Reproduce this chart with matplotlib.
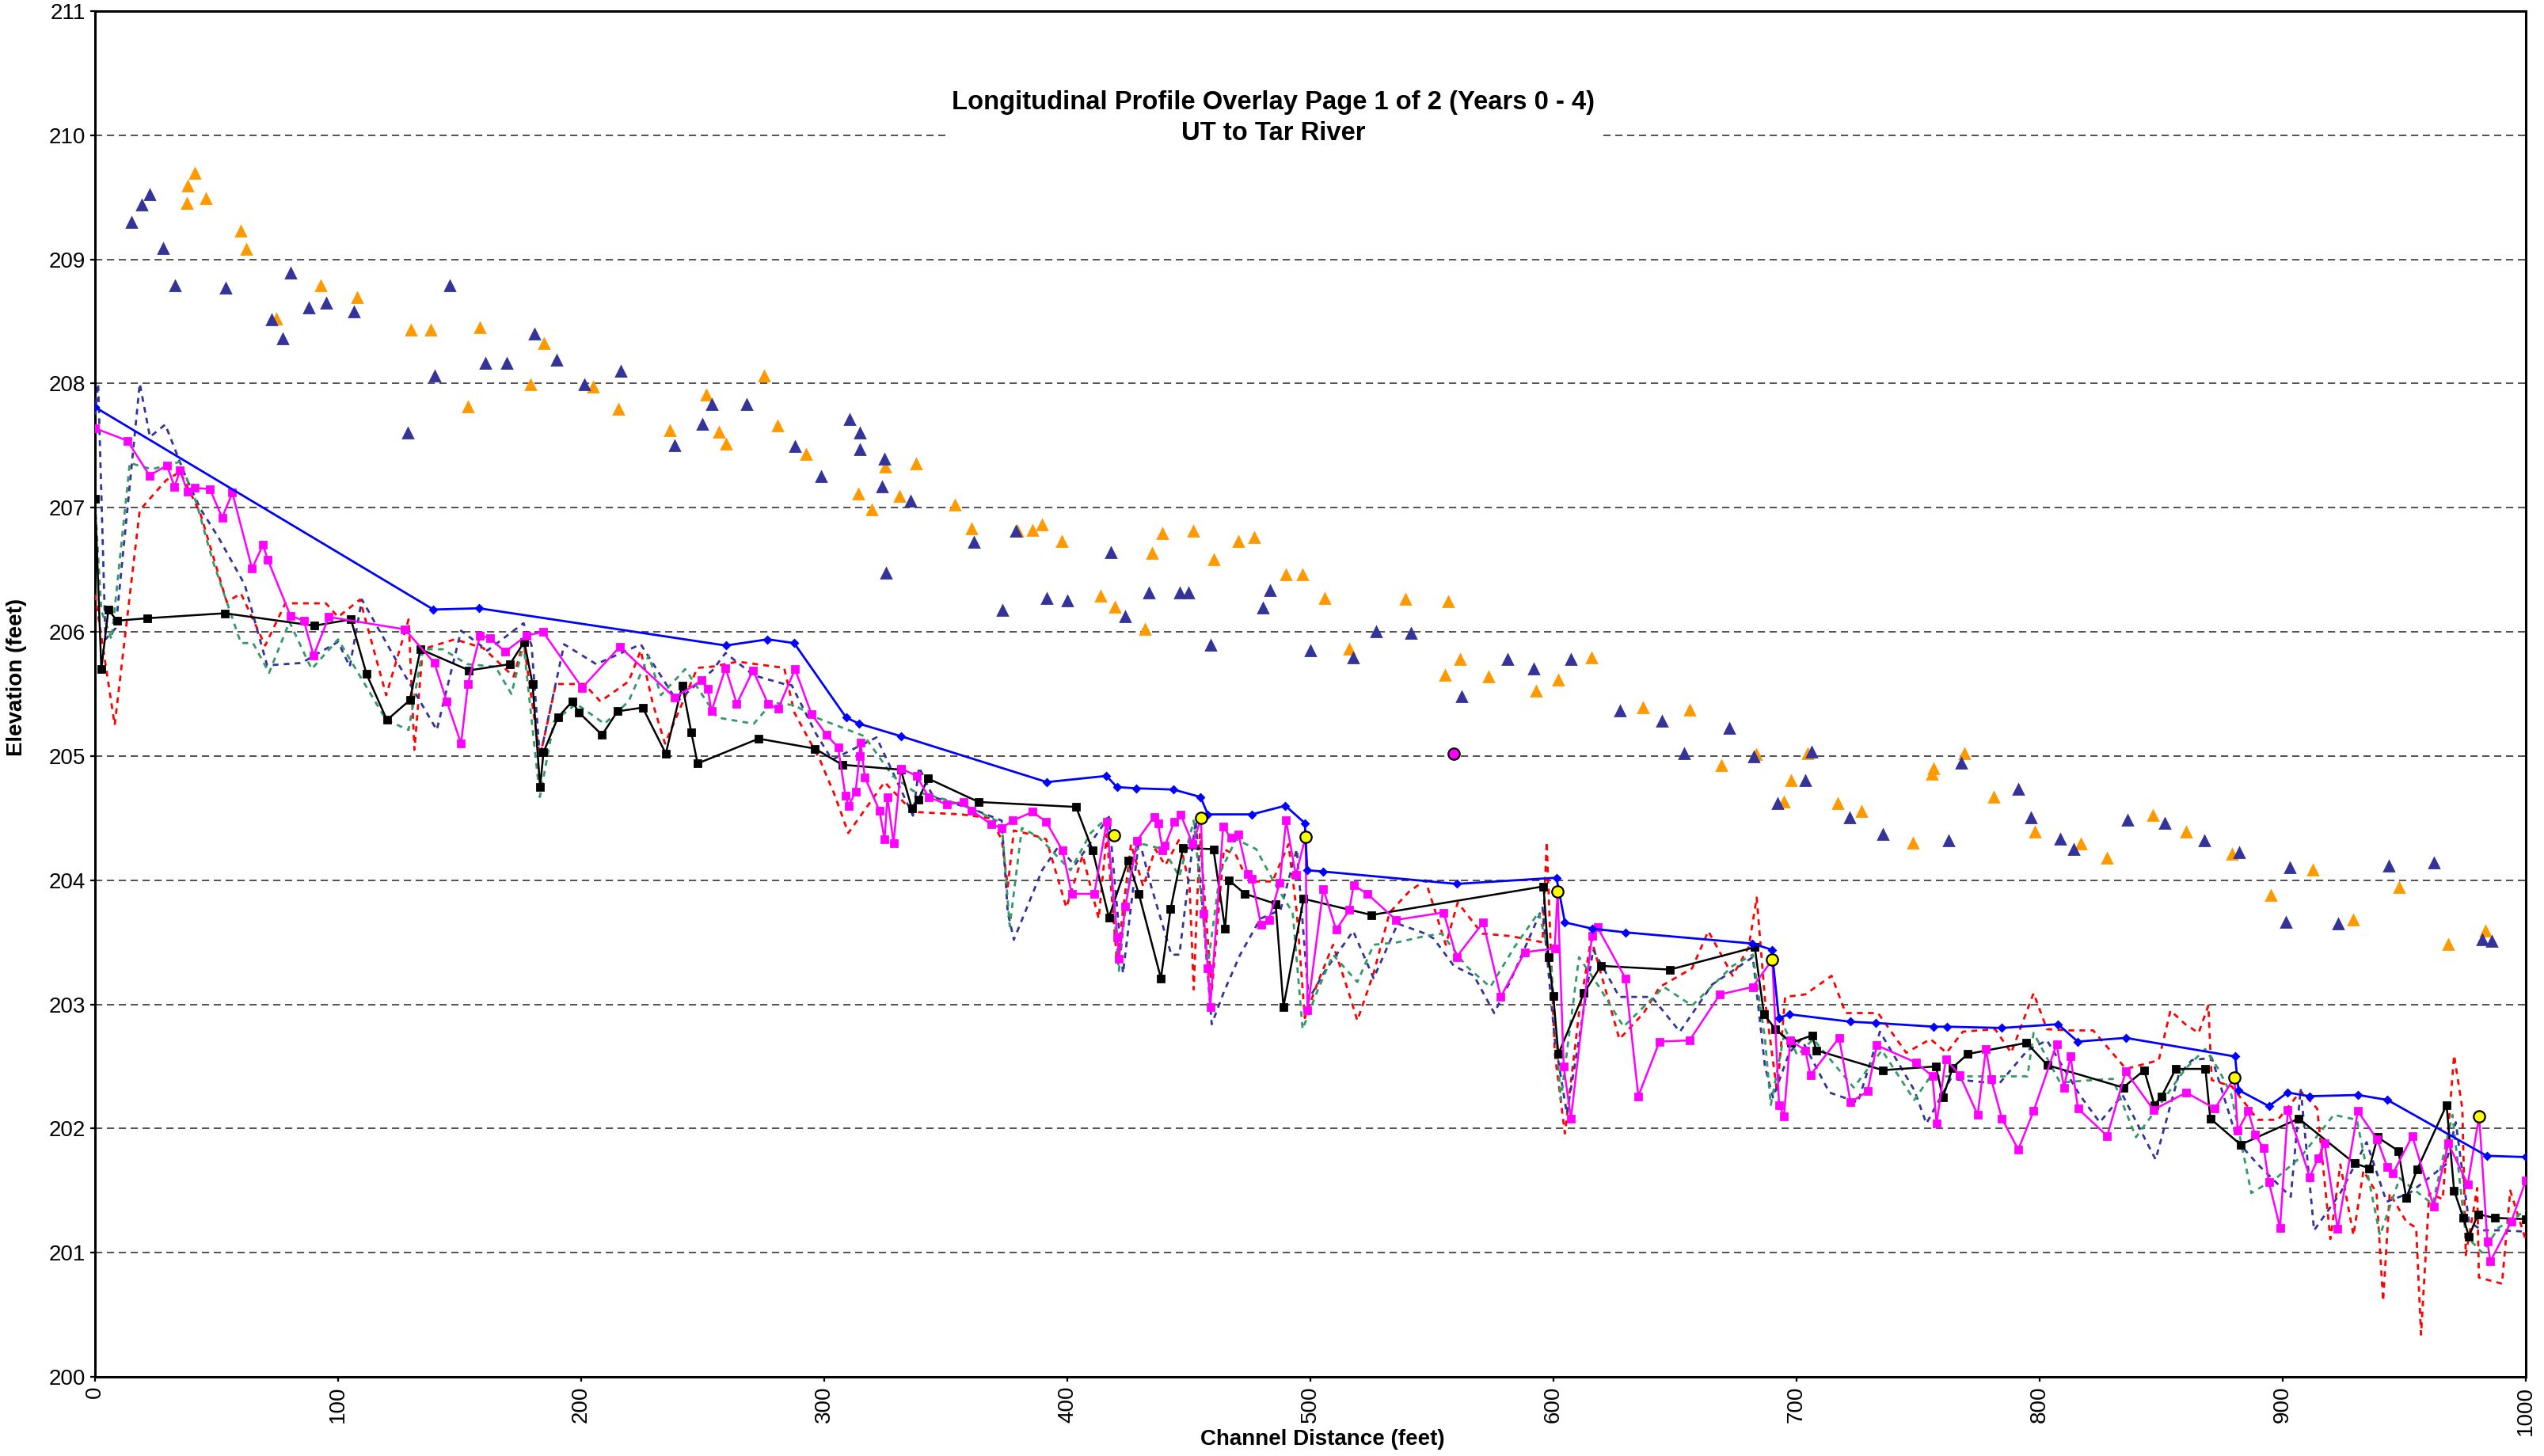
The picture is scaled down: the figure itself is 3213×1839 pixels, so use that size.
import matplotlib
matplotlib.use("Agg")
import matplotlib.pyplot as plt

plt.rcParams["font.family"] = ["Liberation Sans", "DejaVu Sans"]

# ------------------------------------------------------------------ #
#  Data                                   #
# ------------------------------------------------------------------ #
# water surface (blue)
water_x = [0, 139.2, 158, 259.5, 276.7, 287.6, 309, 314.4, 331.5, 391.6, 416.1, 420.4,
           428.4, 443.7, 454.8, 457.8, 475.9, 489.7, 497.7, 498.7, 505.1, 560.2, 601.2,
           604.7, 615.9, 629.5, 681.8, 689.8, 692.7, 697, 722.2, 732.5, 756.5, 761.8,
           784.5, 807.5, 815.7, 835.4, 880.4, 881.8, 894.3, 902, 911, 931, 943.1, 983.9, 1000]
water_y = [207.81, 206.18, 206.19, 205.89, 205.94, 205.91, 205.31, 205.26, 205.16, 204.79,
           204.84, 204.75, 204.74, 204.73, 204.67, 204.53, 204.53, 204.60, 204.46, 204.08,
           204.07, 203.97, 204.02, 203.66, 203.61, 203.58, 203.49, 203.44, 202.89, 202.92,
           202.86, 202.85, 202.82, 202.82, 202.81, 202.84, 202.70, 202.73, 202.58, 202.31,
           202.18, 202.29, 202.26, 202.27, 202.23, 201.78, 201.77]

# thalweg year 0 (black)
yr0_x = [0, 2.6, 5.5, 9, 21.6, 53.3, 90.2, 105.3, 111.7, 120.1, 129.5, 133.9, 153.9, 170.7,
         176.6, 180, 183.1, 184.5, 190.4, 196.3, 199.1, 208.6, 214.9, 225.3, 234.8, 241.6,
         245.3, 247.9, 273, 296.1, 307.4, 331.5, 336, 338.8, 342.6, 363.5, 403.6, 410.4,
         417.1, 425, 429.4, 438.5, 442.5, 447.6, 460.1, 464.9, 466.4, 473.1, 485.7, 488.9,
         497.2, 525.1, 595.9, 597.9, 599.9, 602, 612.5, 619.5, 647.9, 682.8, 686.6, 691.3,
         697.8, 706.4, 708.1, 735.5, 757.3, 760.2, 764.2, 770.4, 794.6, 803.2, 834.4, 843,
         847.2, 850.2, 856, 868.2, 870.2, 882.7, 906.6, 929.5, 935.6, 939, 947.6, 950.8,
         955.3, 967.4, 970.5, 974.3, 976.6, 980.3, 987.2, 1000]
yr0_y = [207.07, 205.70, 206.18, 206.09, 206.11, 206.15, 206.05, 206.10, 205.66, 205.29,
         205.45, 205.86, 205.69, 205.74, 205.92, 205.58, 204.75, 205.03, 205.31, 205.44,
         205.35, 205.17, 205.36, 205.39, 205.02, 205.57, 205.19, 204.94, 205.14, 205.06,
         204.93, 204.89, 204.58, 204.65, 204.82, 204.63, 204.59, 204.24, 203.70, 204.16,
         203.89, 203.21, 203.77, 204.26, 204.25, 203.61, 204.00, 203.89, 203.81, 202.98,
         203.85, 203.72, 203.95, 203.38, 203.07, 202.60, 203.09, 203.31, 203.28, 203.46,
         202.92, 202.80, 202.69, 202.75, 202.63, 202.47, 202.50, 202.25, 202.49, 202.60,
         202.69, 202.51, 202.33, 202.47, 202.19, 202.26, 202.48, 202.48, 202.08, 201.87,
         202.08, 201.72, 201.68, 201.93, 201.82, 201.44, 201.67, 202.19, 201.50, 201.28,
         201.13, 201.31, 201.28, 201.27]

# thalweg year 4 (magenta)
yr4_x = [0, 13.3, 22.4, 29.6, 32.7, 35, 38, 40.9, 47.3, 52.3, 56.5, 64.6, 69.1, 71.1, 80.4,
         85.9, 89.9, 96.2, 127.5, 139.6, 144.7, 150.6, 153.4, 158.4, 162.4, 168.7, 177.5,
         184.3, 200.4, 215.9, 238.5, 249.6, 252.1, 253.6, 259.4, 264, 270.7, 276.9, 281,
         288, 294.7, 300.9, 305.7, 308.7, 310, 312.9, 314.5, 314.9, 316.7, 322.7, 324.8,
         326, 328.5, 331.5, 338, 342.9, 350.4, 357.2, 360.7, 368.7, 373, 377.5, 385.7,
         391.3, 398, 401.8, 411.1, 416.2, 420.6, 421.2, 423.9, 428.7, 435.7, 437.3, 439.2,
         440.2, 444, 446.6, 451.6, 455, 456.1, 457.8, 458.8, 464.1, 467.3, 470.4, 474.1,
         475.9, 479.7, 482.9, 487.4, 490, 494, 498, 498.8, 505.3, 510.6, 516, 517.8,
         523.4, 535.2, 554.8, 560.1, 571.1, 578.3, 588.2, 600.5, 601.7, 604.2, 607.2,
         615.8, 618.1, 629.6, 634.9, 643.6, 656, 668.5, 682, 690, 692.8, 694.8, 697.4,
         703.6, 705.7, 717.5, 722.2, 729.2, 733, 749.3, 755.9, 757.6, 761.4, 767.1, 774.5,
         777.9, 780, 784.5, 791.2, 797.5, 807, 810, 812.7, 815.8, 827.8, 835.4, 846.8,
         860.3, 872.1, 880.1, 881.5, 885.8, 888.6, 892.2, 894.3, 898.9, 902.1, 911.1,
         914.6, 917.2, 922.6, 930.9, 938.9, 943, 945.4, 953.3, 962.1, 968.1, 976.1, 980.8,
         984.2, 985.4, 994, 1000]
yr4_y = [207.64, 207.54, 207.26, 207.34, 207.17, 207.30, 207.13, 207.16, 207.15, 206.92,
         207.12, 206.51, 206.70, 206.58, 206.13, 206.09, 205.81, 206.12, 206.02, 205.75,
         205.44, 205.10, 205.58, 205.97, 205.95, 205.84, 205.97, 206.00, 205.55, 205.88,
         205.47, 205.61, 205.54, 205.36, 205.71, 205.42, 205.69, 205.42, 205.38, 205.70,
         205.34, 205.17, 205.07, 204.68, 204.60, 204.71, 205.00, 205.11, 204.83, 204.56,
         204.33, 204.67, 204.30, 204.90, 204.84, 204.67, 204.61, 204.63, 204.56, 204.45,
         204.42, 204.48, 204.55, 204.47, 204.24, 203.89, 203.89, 204.47, 203.54, 203.37,
         203.79, 204.32, 204.51, 204.46, 204.24, 204.28, 204.47, 204.53, 204.29, 204.50,
         203.73, 203.29, 202.98, 204.43, 204.34, 204.37, 204.05, 204.01, 203.64, 203.68,
         203.98, 204.48, 204.04, 204.35, 202.95, 203.93, 203.60, 203.76, 203.96, 203.89,
         203.68, 203.74, 203.38, 203.66, 203.06, 203.42, 203.45, 203.91, 202.50, 202.08,
         203.55, 203.62, 203.21, 202.26, 202.70, 202.71, 203.08, 203.14, 203.36, 202.19,
         202.10, 202.71, 202.63, 202.43, 202.73, 202.21, 202.30, 202.67, 202.53, 202.42,
         202.04, 202.56, 202.43, 202.11, 202.64, 202.40, 202.08, 201.83, 202.14, 202.68,
         202.33, 202.58, 202.16, 201.94, 202.46, 202.15, 202.29, 202.16, 202.41, 201.98,
         202.14, 201.95, 201.84, 201.57, 201.20, 202.15, 201.61, 201.76, 201.88, 201.19,
         202.14, 201.91, 201.69, 201.64, 201.94, 201.37, 201.88, 201.55, 202.10, 201.09,
         200.93, 201.25, 201.58]

# thalweg year 1 (red dotted)
yr1_x = [0, 8.1, 18.4, 29.2, 35, 43.4, 54.2, 60, 70, 78.3, 95, 100, 109, 119.8, 129, 131.4,
         134.8, 148, 159.7, 172.2, 176.3, 183, 189.6, 201.2, 207.9, 219.5, 224.5, 229.5,
         234.5, 247.8, 254, 264.4, 283.5, 287.7, 298.2, 304, 309.9, 324.8, 336.5, 356.4,
         368, 373, 375.5, 378, 384.7, 391.3, 399.6, 406.3, 412.9, 416.2, 420.4, 426.2,
         431.2, 436.2, 440.3, 446.1, 450.3, 452, 454.5, 459.4, 464.4, 469.4, 472.7, 477.7,
         484.4, 491, 494.4, 497.7, 502.7, 509.3, 516, 519.3, 526, 532.6, 540.7, 547.3,
         555.7, 560.6, 570.6, 582.3, 595.5, 597.2, 600.5, 604.7, 610.5, 615.5, 627.1,
         637.1, 643.7, 657, 663.7, 673.7, 680.3, 683.6, 687, 692, 695.3, 703.6, 714.4,
         720.2, 733.5, 745.1, 755.1, 761.7, 768.4, 781.7, 788.3, 797.5, 803, 812.4, 822,
         835.5, 849, 853.8, 859.9, 865.4, 869.4, 870.8, 879, 889.8, 898, 907.4, 914.2,
         919.6, 923.7, 929.1, 933.2, 938.6, 941.3, 944, 950.8, 954.9, 956.9, 960.3, 965.8,
         970.5, 973.9, 975.3, 980, 980.7, 990.2, 993.6, 1000]
yr1_y = [206.30, 205.25, 206.98, 207.22, 207.29, 206.95, 206.24, 206.31, 205.89, 206.23,
         206.23, 206.12, 206.26, 205.49, 206.10, 205.05, 205.86, 205.94, 205.87, 205.64,
         205.92, 204.99, 205.58, 205.58, 205.44, 205.60, 205.85, 205.42, 205.10, 205.71,
         205.72, 205.76, 205.71, 205.35, 204.97, 204.70, 204.38, 204.79, 204.55, 204.53,
         204.50, 204.33, 203.95, 204.40, 204.37, 204.33, 203.78, 204.20, 203.69, 204.37,
         203.35, 204.29, 203.95, 204.25, 204.12, 204.33, 203.95, 203.12, 204.37, 203.10,
         204.25, 204.20, 204.06, 203.99, 203.99, 204.29, 203.74, 202.89, 203.16, 203.48,
         203.08, 202.87, 203.25, 203.74, 203.91, 204.00, 203.48, 203.82, 203.57, 203.55,
         203.50, 204.31, 202.61, 201.96, 202.93, 203.53, 202.72, 202.93, 203.14, 203.29,
         203.59, 203.23, 203.46, 203.86, 203.04, 202.29, 203.06, 203.08, 203.23, 202.93,
         202.93, 202.61, 202.72, 202.61, 202.78, 202.80, 202.61, 203.09, 202.80, 202.79,
         202.79, 202.48, 202.55, 202.95, 202.84, 202.77, 202.99, 202.39, 202.34, 202.07,
         202.07, 202.30, 202.16, 201.11, 201.71, 201.14, 201.66, 201.48, 200.61, 201.48,
         201.25, 201.20, 200.34, 201.48, 201.43, 202.59, 202.16, 200.98, 201.52, 200.80,
         200.75, 201.50, 201.10]

# thalweg year 2 (navy dotted)
yr2_x = [0, 1.3, 4.3, 8.5, 18.4, 22.6, 28.9, 37.5, 43.4, 50.8, 61.6, 70.8, 85, 100, 104.8,
         109.8, 124.8, 140.6, 150.6, 161.4, 176.3, 179.6, 183, 193, 206.2, 224.5, 239.5,
         254, 259.4, 271, 283.5, 286.6, 296.6, 303.2, 321.5, 336.5, 339, 344.8, 361.4, 373,
         375.5, 378, 389.6, 396.3, 403, 417.1, 422.9, 429.5, 434.5, 442.8, 446.1, 452.8,
         459.4, 464.4, 471.1, 479.4, 487.7, 494.4, 499.3, 506, 517.6, 526, 535.9, 547.2,
         550.7, 559, 567.3, 575.6, 582.3, 595.5, 600.5, 605.5, 610.5, 616.3, 627.1, 640.4,
         652, 665.3, 682, 687, 690.3, 697, 702, 713.5, 725.2, 734.3, 748.4, 753.4, 763.4,
         783.3, 795, 803, 816.5, 824.7, 834.1, 847.7, 857.2, 862.6, 870.8, 881.6, 889.8,
         903.3, 907.4, 912.9, 923.7, 934.5, 942.7, 952.2, 967.1, 971.2, 976.6, 982, 988.8,
         1000]
yr2_y = [207.75, 208.00, 205.94, 206.03, 208.00, 207.57, 207.67, 207.24, 206.99, 206.76,
         206.38, 205.73, 205.75, 205.92, 205.72, 206.26, 205.74, 205.21, 206.01, 205.85,
         206.07, 205.89, 204.99, 205.90, 205.74, 205.90, 205.44, 205.69, 205.83, 205.65,
         205.58, 205.57, 205.18, 204.97, 205.15, 204.52, 204.91, 204.67, 204.57, 204.48,
         203.74, 203.52, 204.08, 204.27, 204.12, 204.51, 203.25, 204.33, 203.95, 203.40,
         203.40, 204.48, 202.84, 203.10, 203.40, 203.69, 203.76, 204.25, 203.04, 203.27,
         203.59, 203.21, 203.65, 203.57, 203.53, 203.31, 203.23, 202.93, 203.19, 203.78,
         202.72, 202.12, 202.72, 203.44, 203.06, 203.06, 202.78, 203.16, 203.38, 202.50,
         202.25, 202.61, 202.72, 202.29, 202.21, 202.78, 202.31, 202.04, 202.40, 202.36,
         202.63, 202.71, 202.27, 202.05, 202.27, 201.75, 202.43, 202.55, 202.57, 201.89,
         201.71, 201.45, 202.32, 201.18, 201.48, 201.89, 201.41, 201.48, 201.71, 202.05,
         201.25, 201.18, 201.18, 201.17]

# thalweg year 3 (green dotted)
yr3_x = [0, 2.6, 6.8, 14.3, 23.4, 35, 41.7, 48.3, 60, 65, 71.6, 80, 89.1, 100, 108.2, 119.8,
         129, 134.8, 143.1, 153.1, 164.7, 171.3, 176.3, 183, 188.8, 198, 209.6, 219.5,
         227.8, 232.8, 242.8, 256, 271, 278.5, 287.7, 296.6, 316.5, 328.1, 336.5, 349.8,
         361.4, 373, 376.3, 381.3, 388, 393, 401.3, 409.6, 416.2, 421.2, 426.2, 431.2,
         439.5, 446.1, 452, 457.8, 462.8, 469.4, 477.7, 486, 492.7, 496.8, 502.7, 509.3,
         519.3, 526, 535.9, 547.2, 554, 564, 574, 583.9, 593.9, 598.9, 603, 610.5, 618.8,
         628.8, 645.4, 657, 673.7, 682, 687, 689.4, 695.3, 700.3, 706.9, 723.5, 735.1,
         748.4, 755.1, 763.4, 795, 797.5, 808.4, 821.9, 830.1, 839.6, 849, 859.9, 868.1,
         873.5, 878.9, 887.1, 897.9, 907.4, 921, 930.5, 940, 948.1, 961.7, 969.8, 975.3,
         982, 988.8, 1000]
yr3_y = [207.04, 206.17, 205.94, 207.36, 207.31, 207.37, 207.04, 206.58, 205.91, 205.91,
         205.67, 206.08, 205.70, 205.94, 205.67, 205.29, 205.21, 205.86, 205.86, 205.74,
         205.72, 205.50, 205.90, 204.67, 205.28, 205.42, 205.26, 205.44, 205.81, 205.49,
         205.70, 205.31, 205.26, 205.43, 205.41, 205.31, 205.16, 204.84, 204.72, 204.65,
         204.57, 204.46, 203.63, 204.42, 204.35, 204.25, 204.08, 204.38, 204.50, 203.27,
         204.20, 204.29, 204.25, 204.03, 204.48, 203.31, 204.06, 204.33, 204.25, 203.95,
         203.74, 202.80, 203.10, 203.40, 203.18, 203.48, 203.50, 203.55, 203.57, 203.31,
         203.14, 203.46, 203.74, 203.36, 202.23, 203.38, 203.14, 202.82, 203.14, 202.99,
         203.31, 203.40, 202.72, 202.19, 202.80, 202.59, 202.72, 202.33, 202.63, 202.23,
         202.42, 202.42, 202.42, 202.77, 202.37, 202.39, 202.40, 201.93, 202.18, 202.48,
         202.64, 202.48, 202.27, 201.48, 201.61, 201.77, 202.11, 202.07, 201.14, 201.60,
         201.39, 202.11, 201.14, 201.00, 201.20, 201.34]

# top of bank (orange = left, navy = right)
ltob_x = [37.9, 38, 40.9, 45.7, 60, 62.3, 74.6, 92.7, 107.8, 130, 138.1, 153.4, 158.4, 179.3,
          184.6, 204.9, 215.4, 236.6, 251.4, 256.8, 259.7, 275.3, 280.8, 292.4, 314.1, 319.4,
          325.1, 330.8, 337.9, 353.9, 360.7, 379.5, 385.7, 389.5, 397.8, 413.8, 419.5, 431.8,
          434.8, 439.1, 451.9, 460.2, 470.4, 476.8, 489.9, 496.7, 505.9, 515.9, 539, 555.5,
          556.8, 561.4, 573.3, 592.9, 602.1, 615.7, 636.9, 656.1, 669.2, 683.3, 694.7, 697.7,
          704.7, 717, 726.6, 748, 755.6, 756.4, 769.1, 781, 798, 816.9, 827.7, 846.6, 860.1,
          879.3, 895.2, 912.5, 929, 947.9, 968.1, 983.3]
ltob_y = [209.45, 209.59, 209.69, 209.49, 209.23, 209.08, 208.52, 208.79, 208.69, 208.43,
          208.43, 207.81, 208.45, 207.99, 208.32, 207.97, 207.79, 207.62, 207.91, 207.61,
          207.51, 208.06, 207.66, 207.43, 207.11, 206.98, 207.33, 207.09, 207.35, 207.02,
          206.83, 206.81, 206.82, 206.86, 206.73, 206.29, 206.20, 206.02, 206.63, 206.79,
          206.81, 206.58, 206.73, 206.76, 206.46, 206.46, 206.27, 205.86, 206.26, 205.65,
          206.24, 205.78, 205.64, 205.52, 205.61, 205.79, 205.39, 205.37, 204.92, 205.01,
          204.63, 204.80, 205.02, 204.62, 204.55, 204.30, 204.85, 204.90, 205.02, 204.67,
          204.39, 204.29, 204.18, 204.52, 204.39, 204.21, 203.88, 204.08, 203.68, 203.94,
          203.48, 203.59]
rtob_x = [15.1, 19.1, 22.4, 28.1, 32.9, 53.8, 72.6, 77.1, 80.6, 88.1, 95.2, 106.5, 128.6,
          139.8, 145.9, 160.5, 169.5, 180.8, 189.8, 201.3, 216.2, 238.5, 249.9, 253.6, 268,
          287.8, 298.6, 310.5, 314.8, 314.8, 323.7, 324.9, 325.3, 335.6, 361.7, 373.3, 378.8,
          391.6, 400, 417.9, 423.8, 433.4, 446.4, 449.9, 458.8, 480.5, 483.5, 500.1, 517.5,
          526.9, 541.3, 562.1, 581, 591.8, 607.3, 627.4, 644.7, 653.8, 672.4, 682.3, 692.3,
          703.7, 706.1, 721.7, 735.5, 762.4, 767.8, 791.3, 796.4, 808.5, 813.9, 836.3, 851.5,
          867.7, 882, 902.8, 901.4, 922.8, 943.6, 962.2, 982.2, 986]
rtob_y = [209.30, 209.44, 209.52, 209.09, 208.79, 208.77, 208.51, 208.36, 208.89, 208.61,
          208.65, 208.58, 207.60, 208.06, 208.79, 208.16, 208.16, 208.40, 208.19, 207.99,
          208.10, 207.50, 207.67, 207.83, 207.83, 207.49, 207.25, 207.71, 207.60, 207.47,
          207.17, 207.39, 206.47, 207.05, 206.72, 206.17, 206.81, 206.27, 206.25, 206.64,
          206.12, 206.31, 206.31, 206.31, 205.89, 206.19, 206.33, 205.85, 205.79, 206.00,
          205.99, 205.48, 205.78, 205.70, 205.78, 205.36, 205.28, 205.02, 205.22, 204.99,
          204.62, 204.80, 205.03, 204.50, 204.37, 204.32, 204.94, 204.73, 204.50, 204.33,
          204.25, 204.48, 204.46, 204.32, 204.22, 204.10, 203.66, 203.65, 204.11, 204.14,
          203.52, 203.51]

# structures (yellow) and single magenta point
struct_x = [419.1, 455, 498, 601.7, 690, 880.1, 980.8]
struct_y = [204.36, 204.50, 204.35, 203.91, 203.36, 202.41, 202.10]
point_x = [558.9]
point_y = [205.02]

x_ticks = list(range(0, 1001, 100))
y_ticks = list(range(200, 212))

# ------------------------------------------------------------------ #
#  Figure                                                              #
# ------------------------------------------------------------------ #
fig = plt.figure(figsize=(3213 / 200, 1839 / 200), dpi=200)
ax = fig.add_axes([0.03735, 0.05438, 0.9555, 0.9380])

ax.plot(ltob_x, ltob_y, linestyle="none", marker="^", ms=4.2, color="#FF9900", zorder=3)
ax.plot(rtob_x, rtob_y, linestyle="none", marker="^", ms=4.2, color="#333399", zorder=3)

dots = (0, (2.6, 2.4))
ax.plot(yr1_x, yr1_y, color="#FF0000", lw=1.0, linestyle=dots, zorder=4)
ax.plot(yr2_x, yr2_y, color="#333399", lw=1.0, linestyle=dots, zorder=4)
ax.plot(yr3_x, yr3_y, color="#339966", lw=1.0, linestyle=dots, zorder=4)

ax.plot(yr0_x, yr0_y, color="black", lw=0.9, marker="s", ms=2.6, zorder=5)
ax.plot(yr4_x, yr4_y, color="#FF00FF", lw=0.9, marker="s", ms=2.8, zorder=6)
ax.plot(water_x, water_y, color="#0000FF", lw=1.0, marker="D", ms=1.8, zorder=7)

ax.plot(struct_x, struct_y, linestyle="none", marker="o", ms=5.2, mfc="#FFFF00",
        mec="black", mew=0.8, zorder=8)
ax.plot(point_x, point_y, linestyle="none", marker="o", ms=5.2, mfc="#FF00FF",
        mec="black", mew=0.8, zorder=8)

ax.set_xlim(0, 1000)
ax.set_ylim(200, 211)
ax.set_xticks(x_ticks)
ax.set_yticks(y_ticks)
ax.set_xticklabels([str(v) for v in x_ticks], rotation=90, fontsize=10)
ax.set_yticklabels([str(v) for v in y_ticks], fontsize=10)
ax.tick_params(direction="out", length=2.2, width=0.8, pad=2)

ax.yaxis.grid(True, linestyle=(0, (5.5, 3.5)), color="#333333", lw=0.6)
ax.set_axisbelow(True)
for s in ax.spines.values():
    s.set_linewidth(1.1)

fig.text(0.5005, 0.919, "Longitudinal Profile Overlay Page 1 of 2 (Years 0 - 4)\nUT to Tar River",
         ha="center", va="center", fontsize=11.8, fontweight="bold", linespacing=1.35,
         bbox=dict(facecolor="white", edgecolor="none", pad=3), zorder=10)
fig.text(0.52, 0.0114, "Channel Distance (feet)", ha="center", va="center",
         fontsize=10, fontweight="bold")
fig.text(0.0065, 0.535, "Elevation (feet)", ha="center", va="center", rotation=90,
         fontsize=10, fontweight="bold")

fig.savefig("out.png", dpi=200)
plt.close(fig)
